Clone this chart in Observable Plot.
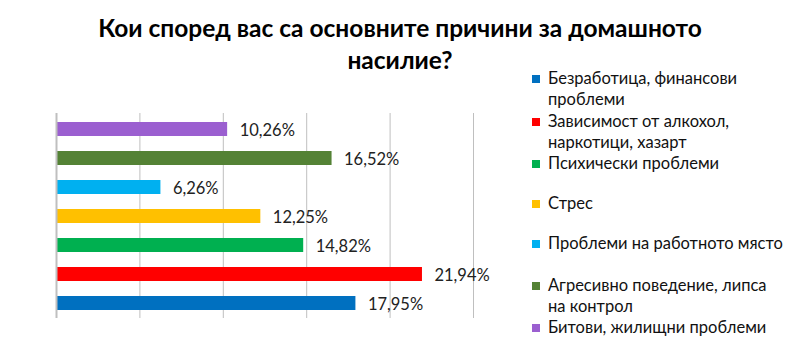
<!DOCTYPE html>
<html>
<head>
<meta charset="utf-8">
<script src="https://cdn.jsdelivr.net/npm/d3@7"></script>
<script src="https://cdn.jsdelivr.net/npm/@observablehq/plot@0.6"></script>
<style>
  html, body { margin: 0; padding: 0; background: #fff; }
  #wrap { position: relative; width: 800px; height: 354px; overflow: hidden; font-family: Lato, "Open Sans", sans-serif; }
  #title { position: absolute; left: 0; top: 12px; width: 800px; text-align: center; font-weight: bold; font-size: 24.5px; line-height: 32px; color: #000; }
  #chart { position: absolute; left: 0; top: 100px; }
  #legend { position: absolute; left: 532px; top: 0; }
  .item { position: absolute; left: 0; width: 270px; font-size: 16.5px; line-height: 18px; color: #111; white-space: nowrap; }
  .sw { position: absolute; left: 0; top: 5.5px; width: 8px; height: 8px; }
  .line { position: absolute; left: 16px; }
</style>
</head>
<body>
<div id="wrap">
  <div id="title">Кои според вас са основните причини за домашното<br>насилие?</div>
  <div id="chart"></div>
  <div id="legend"></div>
</div>
<script>
const categories = [
  "Безработица, финансови проблеми",
  "Зависимост от алкохол, наркотици, хазарт",
  "Психически проблеми",
  "Стрес",
  "Проблеми на работното място",
  "Агресивно поведение, липса на контрол",
  "Битови, жилищни проблеми"
];
const legendLines = [
  ["Безработица, финансови", "проблеми"],
  ["Зависимост от алкохол,", "наркотици, хазарт"],
  ["Психически проблеми"],
  ["Стрес"],
  ["Проблеми на работното място"],
  ["Агресивно поведение, липса", "на контрол"],
  ["Битови, жилищни проблеми"]
];
const values = [17.95, 21.94, 14.82, 12.25, 6.26, 16.52, 10.26];
const labels = ["17,95%", "21,94%", "14,82%", "12,25%", "6,26%", "16,52%", "10,26%"];
const colors = ["#0070C0", "#FF0000", "#00B050", "#FFC000", "#00B0F0", "#548235", "#9B5FD0"];
const gridTicks = [5, 10, 15, 20, 25];

const data = categories.map((c, i) => ({cat: c, value: values[i], label: labels[i], color: colors[i]}));

const plot = Plot.plot({
  width: 520,
  height: 230,
  marginTop: 13,
  marginBottom: 12,
  marginLeft: 56,
  marginRight: 47,
  style: {fontFamily: "Lato, 'Open Sans', sans-serif", background: "transparent"},
  x: {domain: [0, 25], axis: null},
  y: {domain: categories.slice().reverse(), axis: null, paddingInner: 0.52, paddingOuter: 0.27},
  marks: [
    Plot.ruleX(gridTicks, {stroke: "#bfbfbf", strokeWidth: 1}),
    Plot.barX(data, {y: "cat", x: "value", fill: "color"}),
    Plot.ruleX([0], {stroke: "#bfbfbf", strokeWidth: 2}),
    Plot.text(data, {y: "cat", x: "value", text: "label", textAnchor: "start", dx: 12, dy: 1, fontSize: 16.5, fill: "#222"})
  ]
});
document.getElementById("chart").appendChild(plot);

const legendTops = [69, 112, 154, 194, 234, 276, 318];
const legend = document.getElementById("legend");
categories.forEach((c, i) => {
  const item = document.createElement("div");
  item.className = "item";
  item.style.top = legendTops[i] + "px";
  const sw = document.createElement("div");
  sw.className = "sw";
  sw.style.background = colors[i];
  item.appendChild(sw);
  legendLines[i].forEach((t, j) => {
    const ln = document.createElement("div");
    ln.className = "line";
    ln.style.top = (j * 21) + "px";
    ln.textContent = t;
    item.appendChild(ln);
  });
  legend.appendChild(item);
});
</script>
</body>
</html>
